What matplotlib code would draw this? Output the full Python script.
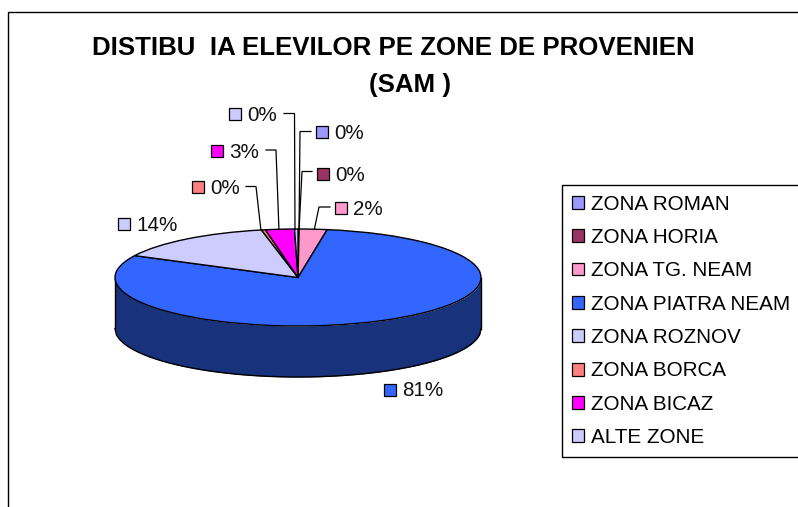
import numpy as np
import matplotlib
matplotlib.use('Agg')
import matplotlib.pyplot as plt
from matplotlib.patches import Patch

plt.rcParams['font.family'] = ['Liberation Sans', 'DejaVu Sans']

# data
zones = ['ZONA ROMAN', 'ZONA HORIA', 'ZONA TG. NEAM', 'ZONA PIATRA NEAM',
         'ZONA ROZNOV', 'ZONA BORCA', 'ZONA BICAZ', 'ALTE ZONE']
shares = [0.05, 0.05, 2.45, 79.9, 14.35, 0.35, 2.55, 0.3]
share_labels = ['0%', '0%', '2%', '81%', '14%', '0%', '3%', '0%']
colors = ['#9999FF', '#993366', '#FF99CC', '#3366FF',
          '#CCCCFF', '#FF8080', '#FF00FF', '#CCCCFF']
title_lines = ['DISTIBU  IA ELEVILOR PE ZONE DE PROVENIEN', '(SAM )']

W, H = 798, 507
fig = plt.figure(figsize=(W / 100, H / 100), dpi=100, facecolor='white')

# overlay in pixel coordinates for frame, title, labels and legend
ov = fig.add_axes([0, 0, 1, 1])
ov.set_xlim(0, W)
ov.set_ylim(H, 0)
ov.axis('off')
ov.plot([8, 8, W], [H, 11.5, 11.5], color='black', lw=1, solid_joinstyle='miter')

ov.text(393.5, 48, title_lines[0], fontsize=18.6, fontweight='bold', ha='center', va='center')
ov.text(410, 85, title_lines[1], fontsize=18.6, fontweight='bold', ha='center', va='center')

# pie: an ellipse because the axes are not square
cx, cy, rx, ry = 298, 277.5, 183, 48.5
depth = 51 / ry
pie_ax = fig.add_axes([(cx - rx) / W, 1 - (cy + ry) / H, 2 * rx / W, 2 * ry / H])
pie_ax.pie(shares, colors=colors, startangle=90, counterclock=False, radius=1,
           wedgeprops={'edgecolor': 'black', 'linewidth': 1, 'zorder': 3})
pie_ax.set_aspect('auto')
pie_ax.set_xlim(-1, 1)
pie_ax.set_ylim(-1, 1)

# side wall of the disc
xs = np.linspace(-1, 1, 300)
ys = -np.sqrt(1 - xs ** 2)
pie_ax.fill_between(xs, ys, ys - depth, color='#18327C', zorder=1, clip_on=False, lw=0)
pie_ax.plot(xs, ys - depth, color='black', lw=1, zorder=2, clip_on=False)
pie_ax.plot([-1, -1], [0, -depth], color='black', lw=1, zorder=2, clip_on=False)
pie_ax.plot([1, 1], [0, -depth], color='black', lw=1, zorder=2, clip_on=False)

# data labels: swatch left edge, centre y, one entry per zone
label_pos = [(316, 132), (317, 174), (335, 208), (384, 389.5),
             (118, 224), (192, 187), (211, 151), (229, 114)]
leaders = [[(311, 131.5), (300, 131.5), (299, 231)],
           [(312, 171.5), (302, 171.5), (299, 231)],
           [(330, 207), (319, 207), (314, 231)],
           None,
           None,
           [(246, 186.5), (256, 186.5), (261, 231)],
           [(266, 150), (276, 150), (279, 231)],
           [(284, 113.5), (294.5, 113.5), (295, 231)]]

for lab, col, (x, y), lead in zip(share_labels, colors, label_pos, leaders):
    ov.add_patch(plt.Rectangle((x, y - 6), 12, 12, facecolor=col, edgecolor='black', lw=0.9))
    ov.text(x + 18.5, y + 1.5, lab, fontsize=14.9, ha='left', va='center', color='#111111')
    if lead is not None:
        ov.plot(*zip(*lead), color='black', lw=0.9, solid_joinstyle='miter')

handles = [Patch(facecolor=c, edgecolor='black', lw=0.9) for c in colors]
leg = ov.legend(handles, zones, loc='upper left', bbox_to_anchor=(562, 185),
                bbox_transform=ov.transData, borderaxespad=0, fontsize=14.9,
                frameon=True, fancybox=False, framealpha=1, edgecolor='black',
                handlelength=0.58, handleheight=0.58, handletextpad=0.34,
                labelspacing=0.695, borderpad=0.46)
leg.get_frame().set_linewidth(1)

fig.savefig('out.png', dpi=100)
